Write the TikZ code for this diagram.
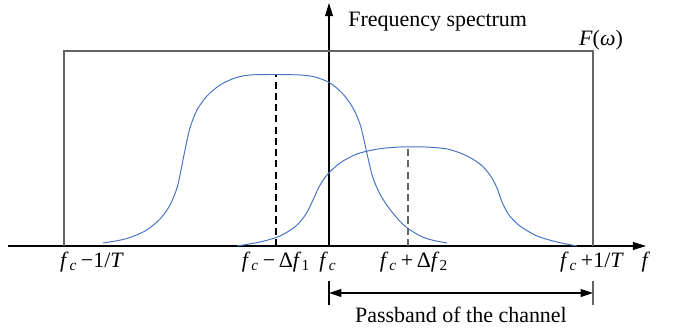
\documentclass[tikz,border=0pt]{standalone}
\usepackage{fontspec}
\setmainfont{Liberation Serif}
\usepackage{tikz}
\usetikzlibrary{arrows.meta,positioning}

\definecolor{specblue}{RGB}{68,114,196}
\definecolor{boxgray}{RGB}{100,100,100}
\newcommand{\fc}{\textit{f}\kern0.5pt\textsubscript{\textit{c}}}

\tikzset{
    axis/.style={line width=0.6pt, -{Triangle[length=7.5pt, width=4.5pt]}},
    spectrum/.style={specblue, line width=0.55pt},
    marker/.style={line width=0.6pt, dash pattern=on 4pt off 2.4pt},
    lbl/.style={font=\fontsize{12.5}{14}\selectfont, inner sep=0pt},
}

\begin{document}
\begin{tikzpicture}[x=0.02cm, y=-0.02cm]
    \useasboundingbox (0,0) rectangle (680,331);

    % Axes
    \coordinate (o) at (329,246);
    \coordinate (xstart) at (8,246);
    \coordinate (xend) at (646,246);
    \coordinate (yend) at (329,3);
    \draw[axis] (xstart) -- (xend);
    \draw[axis] (o) -- (yend);

    % Window of width 2/T
    \draw[boxgray, line width=0.7pt] (64,246) -- (64,51) -- (593,51) -- (593,246);

    % Spectra
    \draw[spectrum] plot[smooth] coordinates {
        (103,243) (125,239) (145,231) (160,219) (170,205) (177,188) (181,170)
        (185,150) (190,128) (197,110) (207,96) (220,85) (235,78) (250,75)
        (275,74.5) (300,75) (315,77) (330,83) (343,94) (353,108) (360,124)
        (364,140) (368,158) (373,178) (381,196) (392,212) (406,227) (425,238)
        (447,243)};
    \draw[spectrum] plot[smooth] coordinates {
        (237,246) (260,242) (280,236) (296,226) (306,214) (313,200) (319,187)
        (327,175) (340,163) (357,154) (378,149) (400,147) (425,147) (447,149)
        (465,155) (480,164) (490,175) (497,188) (502,202) (509,215) (520,226)
        (537,236) (557,242) (577,246)};

    % Carrier offsets
    \draw[marker] (276,246) -- (276,75);
    \draw[marker, boxgray] (408,246) -- (408,147);

    % Labels on the f axis: name / x / text
    \foreach \name/\x/\txt in {
        flo/92/{\fc\,−1/\textit{T}},
        fone/276/{\fc\,−\,Δ\textit{f}\textsubscript{1}},
        fc/328/{\fc},
        ftwo/414/{\fc\,+\,Δ\textit{f}\textsubscript{2}},
        fhi/592/{\fc\,+1/\textit{T}},
        faxis/646/{\textit{f}}
    } {
        \node[lbl, anchor=base] (\name) at (\x,267) {\txt};
    }

    \node[lbl, anchor=base west] (spec) at (348,27) {Frequency spectrum};
    \node[lbl, anchor=base] (Fw) at (601,46) {\textit{F}(\textit{ω})};

    % Passband
    \coordinate (pbl) at (329,293);
    \coordinate (pbr) at (593,293);
    \draw[line width=0.6pt] (329,281) -- (329,305);
    \draw[boxgray, line width=0.7pt] (593,281) -- (593,305);
    \draw[line width=0.6pt, {Triangle[length=7pt, width=4.5pt]}-{Triangle[length=7pt, width=4.5pt]}] (pbl) -- (pbr);
    \node[lbl, anchor=base] (pass) at (461,322) {Passband of the channel};
\end{tikzpicture}
\end{document}
